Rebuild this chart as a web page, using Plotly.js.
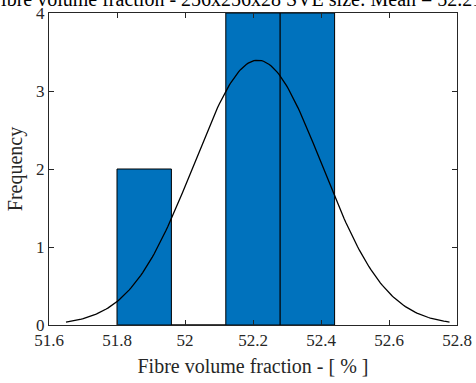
<!DOCTYPE html>
<html>
<head>
<meta charset="utf-8">
<script src="https://cdn.plot.ly/plotly-3.0.1.min.js"></script>
<style>html,body{margin:0;padding:0;background:#fff;}#chart{width:476px;height:383px;}</style>
</head>
<body>
<div id="chart"></div>
<script>
// Histogram bins (edges) and counts
const binEdges = [51.80, 51.96, 52.12, 52.28, 52.44];
const binCounts = [2, 0, 4, 4];
// Fitted normal distribution parameters (histfit)
const fitMean = 52.214;
const fitStd = 0.188;
const sampleCount = 10;
// Axis ticks
const xTickVals = [51.6, 51.8, 52, 52.2, 52.4, 52.6, 52.8];
const xTickText = ["51.6", "51.8", "52", "52.2", "52.4", "52.6", "52.8"];
const yTickVals = [0, 1, 2, 3, 4];
const titleText = "Fibre volume fraction - 256x256x28 SVE size: Mean = 52.21 %, Std = 0.19 %";

const binCenters = binCounts.map((c, i) => (binEdges[i] + binEdges[i + 1]) / 2);
const binWidths = binCounts.map((c, i) => binEdges[i + 1] - binEdges[i]);

// Normal fit curve scaled to histogram counts (mean ± 3σ)
const binW = binWidths[0];
const curveX = [], curveY = [];
const nPts = 200;
for (let i = 0; i <= nPts; i++) {
  const x = fitMean - 3 * fitStd + (6 * fitStd) * i / nPts;
  const z = (x - fitMean) / fitStd;
  curveX.push(x);
  curveY.push(sampleCount * binW / (fitStd * Math.sqrt(2 * Math.PI)) * Math.exp(-0.5 * z * z));
}

const font = "Liberation Serif";

const traces = [
  {
    type: "bar",
    x: binCenters,
    y: binCounts,
    width: binWidths,
    marker: {color: "#0072BD", line: {color: "#000000", width: 1}},
    hoverinfo: "skip"
  },
  {
    type: "scatter",
    mode: "lines",
    x: curveX,
    y: curveY,
    line: {color: "#000000", width: 1.3},
    hoverinfo: "skip"
  }
];

function axisBase() {
  return {
    showline: true,
    linecolor: "#262626",
    linewidth: 1,
    mirror: "ticks",
    ticks: "inside",
    ticklen: 5,
    tickcolor: "#262626",
    showgrid: false,
    zeroline: false,
    tickfont: {family: font, size: 17, color: "#262626"}
  };
}

const layout = {
  width: 476,
  height: 383,
  margin: {l: 49, r: 19, t: 13, b: 58},
  paper_bgcolor: "#ffffff",
  plot_bgcolor: "#ffffff",
  showlegend: false,
  bargap: 0,
  font: {family: font, size: 17, color: "#262626"},
  annotations: [{
    text: titleText,
    xref: "paper", yref: "paper",
    x: 0, y: 1,
    xanchor: "left", yanchor: "bottom",
    xshift: -61, yshift: 1,
    showarrow: false,
    font: {family: font, size: 20, color: "#000000"}
  }],
  xaxis: Object.assign(axisBase(), {
    range: [51.6, 52.8],
    tickmode: "array",
    tickvals: xTickVals,
    ticktext: xTickText,
    title: {text: "Fibre volume fraction - [ % ]", font: {family: font, size: 20, color: "#262626"}, standoff: 9}
  }),
  yaxis: Object.assign(axisBase(), {
    range: [0, 4],
    tickmode: "array",
    tickvals: yTickVals,
    ticktext: yTickVals.map(String),
    title: {text: "Frequency", font: {family: font, size: 20, color: "#262626"}, standoff: 8}
  })
};

Plotly.newPlot("chart", traces, layout, {staticPlot: true, displayModeBar: false});
</script>
</body>
</html>
